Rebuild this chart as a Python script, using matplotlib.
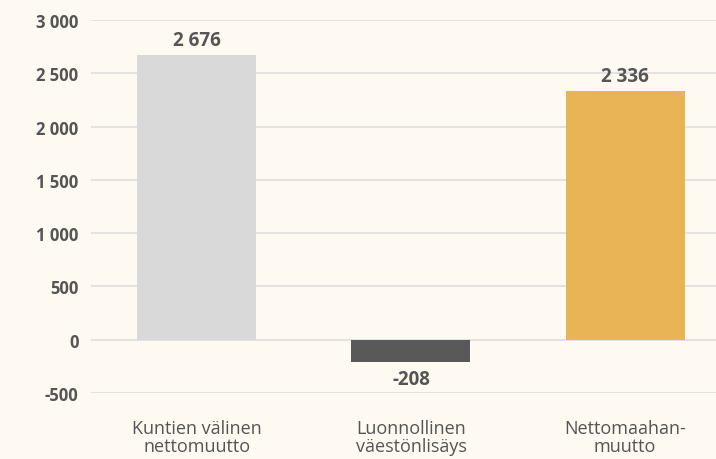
import matplotlib
matplotlib.use("Agg")
import matplotlib.pyplot as plt
from matplotlib.ticker import FuncFormatter

categories = ["Kuntien välinen\nnettomuutto", "Luonnollinen\nväestönlisäys", "Nettomaahan-\nmuutto"]
values = [2676, -208, 2336]
colors = ["#D9D9D9", "#595959", "#E8B455"]
yticks = [-500, 0, 500, 1000, 1500, 2000, 2500, 3000]

bg = "#FEF9F1"
txt = "#555555"
plt.rcParams['font.family'] = ['Open Sans', 'DejaVu Sans']

fig = plt.figure(figsize=(7.16, 4.60), dpi=100, facecolor=bg)
ax = fig.add_axes([0.127, 0.1435, 0.873, 0.8105], facecolor=bg)

x = list(range(len(categories)))
bars = ax.bar(x, values, width=0.556, color=colors, zorder=3)

def fmt(v):
    s = f"{abs(int(v)):,}".replace(",", " ")
    return ("-" if v < 0 else "") + s

for xi, v in zip(x, values):
    if v >= 0:
        ax.text(xi, v + 45, fmt(v), ha="center", va="bottom", fontsize=13.5,
                fontweight="bold", color=txt)
    else:
        ax.text(xi, v - 65, fmt(v), ha="center", va="top", fontsize=13.5,
                fontweight="bold", color=txt)

ax.set_ylim(-500, 3000)
ax.set_xlim(-0.495, 2.425)
ax.set_yticks(yticks)
ax.yaxis.set_major_formatter(FuncFormatter(lambda v, p: fmt(v)))
ax.grid(axis="y", color="#DEDEDE", linewidth=1.2, zorder=0)
ax.set_xticks(x)
ax.set_xticklabels(categories, fontsize=13, color=txt, linespacing=1.0)
for lbl in ax.get_yticklabels():
    lbl.set_fontweight("bold")
    lbl.set_color(txt)
    lbl.set_fontsize(12)
ax.tick_params(axis="both", length=0)
ax.tick_params(axis="y", pad=9)
ax.tick_params(axis="x", pad=19)
for s in ax.spines.values():
    s.set_visible(False)

fig.savefig("out.png", dpi=100, facecolor=bg)
